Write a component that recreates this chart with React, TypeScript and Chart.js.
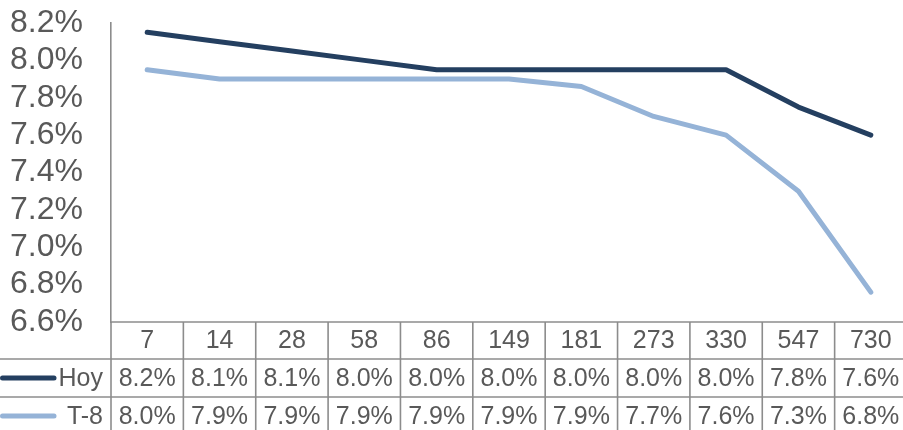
import React, { useEffect, useRef } from "react";
import { Chart, registerables } from "chart.js";

Chart.register(...registerables);

// ---- Data ----
const categories = ["7", "14", "28", "58", "86", "149", "181", "273", "330", "547", "730"];
const hoyValues = [8.15, 8.1, 8.05, 8.0, 7.95, 7.95, 7.95, 7.95, 7.95, 7.75, 7.6];
const t8Values = [7.95, 7.9, 7.9, 7.9, 7.9, 7.9, 7.86, 7.7, 7.6, 7.3, 6.76];
const seriesNames = ["Hoy", "T-8"];
const yMin = 6.6;
const yMax = 8.2;
const yStep = 0.2;

const seriesColors = ["#243F60", "#95B3D7"];
const FONT = '"Liberation Sans", Arial, sans-serif';
const TEXT = "#595959";
const GRID = "#8C8C8C";

const fmt = (v: number) => (Math.round(v * 10 + 1e-6) / 10).toFixed(1) + "%";

const tablePlugin = {
  id: "dataTable",
  afterDraw(chart: any) {
    const ctx: CanvasRenderingContext2D = chart.ctx;
    const xs = chart.scales.x;
    const area = chart.chartArea;
    const n = categories.length;
    const colW = (area.right - area.left) / n;
    const top = area.bottom;
    const y1 = top + 37;
    const y2 = y1 + 38;
    const y3 = y2 + 38;
    ctx.save();
    ctx.strokeStyle = GRID;
    ctx.lineWidth = 1.6;
    const line = (ax: number, ay: number, bx: number, by: number) => {
      ctx.beginPath();
      ctx.moveTo(ax, ay);
      ctx.lineTo(bx, by);
      ctx.stroke();
    };
    line(area.left, top, area.right, top);
    line(0, y1, area.right, y1);
    line(0, y2, area.right, y2);
    line(0, y3, area.right, y3);
    for (let i = 0; i <= n; i++) {
      const bx = area.left + i * colW;
      line(bx, top, bx, y3);
    }
    ctx.fillStyle = TEXT;
    ctx.font = `25px ${FONT}`;
    ctx.textAlign = "center";
    ctx.textBaseline = "middle";
    categories.forEach((c, i) => {
      ctx.fillText(c, xs.getPixelForValue(i), (top + y1) / 2 + 1);
    });
    const rowCenters = [(y1 + y2) / 2 + 1, (y2 + y3) / 2 + 1];
    chart.data.datasets.forEach((ds: any, r: number) => {
      ds.data.forEach((v: number, i: number) => {
        ctx.fillText(fmt(v), xs.getPixelForValue(i), rowCenters[r]);
      });
      // legend key + name
      ctx.save();
      ctx.strokeStyle = ds.borderColor;
      ctx.lineWidth = 5;
      ctx.lineCap = "round";
      line(2.5, rowCenters[r] - 1, 54, rowCenters[r] - 1);
      ctx.restore();
      ctx.textAlign = "right";
      ctx.fillText(ds.label, 103, rowCenters[r]);
      ctx.textAlign = "center";
    });
    ctx.restore();
  },
};

export default function App() {
  const ref = useRef<HTMLCanvasElement | null>(null);
  useEffect(() => {
    if (!ref.current) return;
    const chart = new Chart(ref.current, {
      type: "line",
      data: {
        labels: categories,
        datasets: [
          {
            label: seriesNames[0],
            data: hoyValues,
            borderColor: seriesColors[0],
            backgroundColor: seriesColors[0],
            borderWidth: 5,
            pointRadius: 0,
            tension: 0,
            borderCapStyle: "round",
            borderJoinStyle: "round",
            order: 1,
          },
          {
            label: seriesNames[1],
            data: t8Values,
            borderColor: seriesColors[1],
            backgroundColor: seriesColors[1],
            borderWidth: 5,
            pointRadius: 0,
            tension: 0,
            borderCapStyle: "round",
            borderJoinStyle: "round",
            order: 2,
          },
        ],
      },
      options: {
        animation: false,
        responsive: true,
        maintainAspectRatio: false,
        layout: { padding: { top: 23, bottom: 108, left: 0, right: 3 } },
        plugins: { legend: { display: false }, tooltip: { enabled: false } },
        scales: {
          x: { display: false, offset: true },
          y: {
            min: yMin,
            max: yMax,
            grid: { display: false, drawTicks: true, tickLength: 28 },
            border: { display: true, color: GRID, width: 1.6 },
            ticks: {
              stepSize: yStep,
              autoSkip: false,
              color: TEXT,
              padding: 0,
              font: { family: FONT, size: 32 },
              callback: (v: any) => Number(v).toFixed(1) + "%",
            },
            afterFit: (s: any) => {
              s.width = 111;
            },
          },
        },
      },
      plugins: [tablePlugin],
    });
    return () => chart.destroy();
  }, []);
  return (
    <div
      style={{
        position: "fixed",
        left: 0,
        top: 0,
        width: 903,
        height: 430,
        overflow: "hidden",
        background: "#fff",
      }}
    >
      <div style={{ position: "relative", width: 910, height: 430 }}>
        <canvas ref={ref} />
      </div>
    </div>
  );
}
